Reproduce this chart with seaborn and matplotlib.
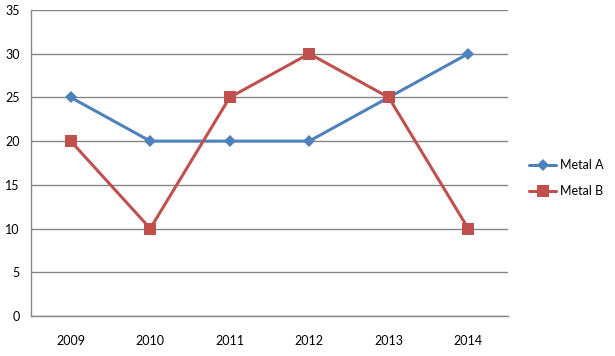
import seaborn as sns
import matplotlib.pyplot as plt
import pandas as pd
from matplotlib.ticker import FixedLocator

# Data
years = [2009, 2010, 2011, 2012, 2013, 2014]
metal_a = [25, 20, 20, 20, 25, 30]
metal_b = [20, 10, 25, 30, 25, 10]

df = pd.DataFrame({
    'Year': years * 2,
    'Value': metal_a + metal_b,
    'Series': ['Metal A'] * 6 + ['Metal B'] * 6,
})

sns.set_style('white')
plt.rcParams['font.family'] = ['Lato', 'DejaVu Sans']
plt.rcParams['text.color'] = 'black'

fig, ax = plt.subplots(figsize=(6.15, 3.56), dpi=100)
fig.subplots_adjust(left=0.0504, right=0.826, top=0.972, bottom=0.1124)

sns.lineplot(
    data=df, x='Year', y='Value', hue='Series', style='Series',
    markers={'Metal A': 'D', 'Metal B': 's'}, dashes=False,
    palette={'Metal A': '#4F81BD', 'Metal B': '#C0504D'},
    linewidth=2.2, markersize=8, markeredgewidth=0, ax=ax,
)
# square markers a bit larger than diamonds
for line in ax.get_lines():
    if line.get_marker() == 's':
        line.set_markersize(9)
    elif line.get_marker() == 'D':
        line.set_markersize(6.5)

ax.set_xlim(years[0] - 0.5, years[-1] + 0.5)
ax.set_ylim(0, 35)
ax.set_yticks(range(0, 36, 5))
ax.set_xticks(years)
ax.xaxis.set_minor_locator(FixedLocator([y - 0.5 for y in years] + [years[-1] + 0.5]))
ax.tick_params(axis='x', which='major', length=0, pad=14, labelsize=9, labelcolor='black')
ax.tick_params(axis='x', which='minor', length=5, width=1, color='#868686', direction='out')
ax.tick_params(axis='y', length=5, width=1, color='#868686', direction='out',
               labelsize=9, labelcolor='black', pad=3)
ax.set_xlabel('')
ax.set_ylabel('')

ax.grid(axis='y', color='#868686', linewidth=1)
ax.set_axisbelow(True)
for side in ['top', 'right']:
    ax.spines[side].set_visible(False)
for side in ['left', 'bottom']:
    ax.spines[side].set_color('#868686')
    ax.spines[side].set_linewidth(1)

handles, labels = ax.get_legend_handles_labels()
ax.legend(handles, labels, loc='center left', bbox_to_anchor=(1.02, 0.45),
          frameon=False, fontsize=9, handlelength=2.2, handletextpad=0.3,
          labelspacing=1.1)

plt.savefig('out.png', dpi=100)
plt.close()
